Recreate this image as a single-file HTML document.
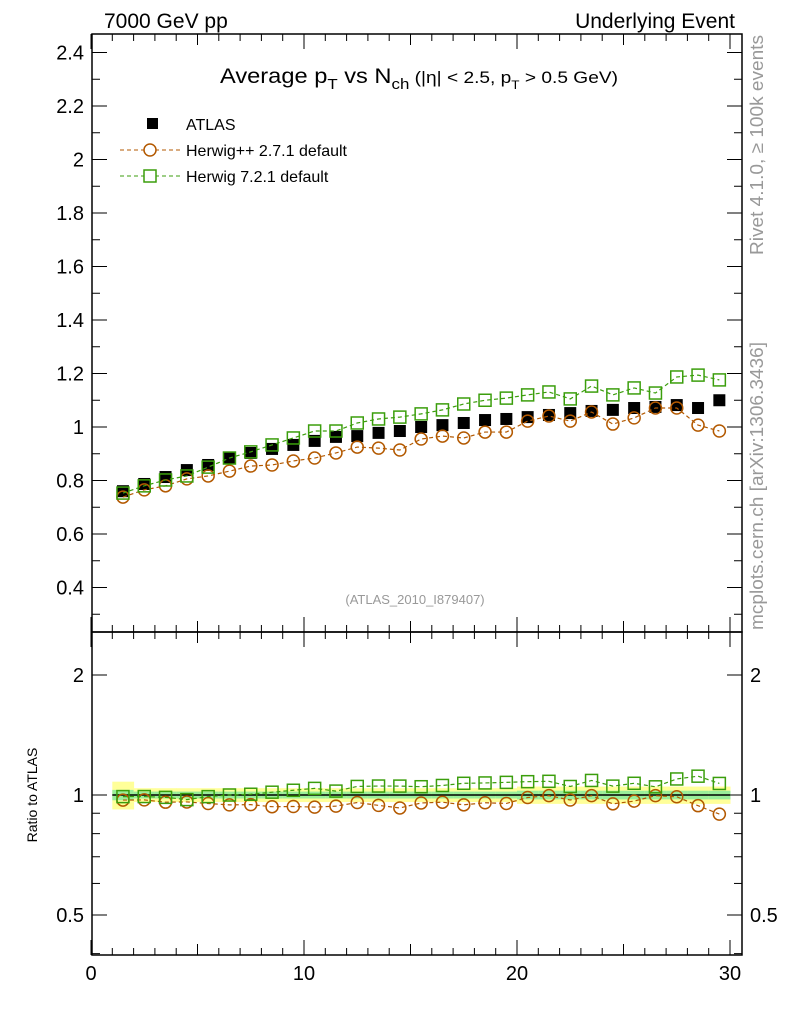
<!DOCTYPE html>
<html><head><meta charset="utf-8"><style>
body{margin:0;background:#fff}
svg{display:block;font-family:"Liberation Sans",sans-serif}
</style></head><body>
<svg id="c" width="786" height="1024" viewBox="0 0 786 1024">
<text x="104" y="28" font-size="21">7000 GeV pp</text>
<text x="735" y="28" font-size="21" text-anchor="end">Underlying Event</text>
<text x="220" y="83" font-size="21" textLength="398" lengthAdjust="spacingAndGlyphs">Average p<tspan font-size="15" dy="6">T</tspan><tspan dy="-6"> vs N</tspan><tspan font-size="15" dy="6">ch</tspan><tspan font-size="17" dy="-6"> (|η| &lt; 2.5, p</tspan><tspan font-size="12" dy="6">T</tspan><tspan font-size="17" dy="-6"> &gt; 0.5 GeV)</tspan></text>
<g id="legend">
<rect x="147" y="118" width="11" height="11" fill="#000"/>
<text x="186" y="130" font-size="16">ATLAS</text>
<line x1="120" y1="150" x2="180" y2="150" stroke="#b35900" stroke-dasharray="4,3"/>
<circle cx="150" cy="150" r="6" fill="#fff" stroke="#b35900" stroke-width="1.5"/>
<text x="186" y="156" font-size="16">Herwig++ 2.7.1 default</text>
<line x1="120" y1="176" x2="180" y2="176" stroke="#3b9e0c" stroke-dasharray="4,3"/>
<rect x="144" y="170" width="12" height="12" fill="#fff" stroke="#3b9e0c" stroke-width="1.5"/>
<text x="186" y="182" font-size="16">Herwig 7.2.1 default</text>
</g>
<text x="415" y="604" font-size="13" fill="#999" text-anchor="middle">(ATLAS_2010_I879407)</text>
<text transform="translate(763,255) rotate(-90)" font-size="18.5" fill="#999" textLength="220" lengthAdjust="spacingAndGlyphs">Rivet 4.1.0, ≥ 100k events</text>
<text transform="translate(763,630) rotate(-90)" font-size="18.5" fill="#999" textLength="288" lengthAdjust="spacingAndGlyphs">mcplots.cern.ch [arXiv:1306.3436]</text>
<text transform="translate(37,795) rotate(-90)" font-size="14" text-anchor="middle">Ratio to ATLAS</text>
<g id="marks"></g>
</svg>
<script>
const xs=[1.5,2.5,3.5,4.5,5.5,6.5,7.5,8.5,9.5,10.5,11.5,12.5,13.5,14.5,15.5,16.5,17.5,18.5,19.5,20.5,21.5,22.5,23.5,24.5,25.5,26.5,27.5,28.5,29.5];
const atlas=[0.76,0.787,0.813,0.839,0.858,0.884,0.903,0.918,0.933,0.948,0.963,0.966,0.978,0.985,1.0,1.007,1.015,1.026,1.03,1.037,1.045,1.052,1.06,1.064,1.071,1.075,1.082,1.071,1.10];
const herwigpp=[0.738,0.765,0.78,0.806,0.817,0.835,0.854,0.858,0.873,0.884,0.903,0.925,0.921,0.914,0.955,0.966,0.959,0.981,0.981,1.022,1.041,1.022,1.056,1.011,1.034,1.071,1.071,1.007,0.985];
const herwig7=[0.753,0.78,0.802,0.817,0.85,0.884,0.907,0.933,0.959,0.985,0.985,1.015,1.03,1.037,1.049,1.064,1.086,1.1,1.108,1.12,1.131,1.105,1.153,1.12,1.146,1.127,1.187,1.194,1.176];
const bandOuter=[0.08,0.04,0.04,0.04,0.04,0.04,0.04,0.04,0.04,0.04,0.04,0.04,0.04,0.04,0.04,0.04,0.04,0.04,0.04,0.05,0.05,0.05,0.05,0.05,0.05,0.05,0.05,0.05,0.05];
const bandInner=[0.03,0.02,0.02,0.02,0.02,0.02,0.02,0.02,0.02,0.02,0.02,0.02,0.02,0.02,0.02,0.02,0.02,0.02,0.02,0.025,0.025,0.025,0.025,0.025,0.025,0.025,0.025,0.025,0.025];
const yTicks=[0.4,0.6,0.8,1,1.2,1.4,1.6,1.8,2,2.2,2.4];
const xTicks=[0,10,20,30];
const rTicks=[0.5,1,2];
const L=92,R=742,T=34,M=632,B=955;
const X=v=>91+v*21.3;
const Y=v=>427-(v-1)*267.5;
const RY=v=>795-Math.log2(v)*120;
const svg=document.getElementById('c'),g=document.getElementById('marks');
const NS='http://www.w3.org/2000/svg';
function mk(t,a,p){const e=document.createElementNS(NS,t);for(const k in a)e.setAttribute(k,a[k]);(p||g).appendChild(e);return e;}
for(let i=0;i<xs.length;i++){
 const x0=X(xs[i]-0.5),x1=X(xs[i]+0.5);
 const b=mk('rect',{x:x0,y:RY(1+bandOuter[i]),width:x1-x0+0.5,height:RY(1-bandOuter[i])-RY(1+bandOuter[i]),fill:'#ffff99'});
 
 
 const c=mk('rect',{x:x0,y:RY(1+bandInner[i]),width:x1-x0+0.5,height:RY(1-bandInner[i])-RY(1+bandInner[i]),fill:'#99ee99'});
 
 
}
const rl=mk('line',{x1:X(1),x2:X(30),y1:RY(1),y2:RY(1),stroke:'#000','stroke-width':1.5});


const f1=mk('rect',{x:L,y:T,width:R-L,height:M-T,fill:'none',stroke:'#000','stroke-width':1.5});


const f2=mk('rect',{x:L,y:M,width:R-L,height:B-M,fill:'none',stroke:'#000','stroke-width':1.5});


for(let v=0.3;v<=2.45;v+=0.1){const y=Y(v);const maj=Math.abs(v*5-Math.round(v*5))<1e-6;const w=maj?15:8;
 mk('line',{x1:L,x2:L+w,y1:y,y2:y,stroke:'#000'});mk('line',{x1:R-w,x2:R,y1:y,y2:y,stroke:'#000'});}
yTicks.forEach(v=>{const t=mk('text',{x:L-8,y:Y(v)+7,'font-size':20,'text-anchor':'end'});t.textContent=String(v);
 
 });
for(let v=0;v<=30;v++){const maj=v%10==0,mid=v%5==0;const w=maj?15:(mid?11:7);const x=X(v);
 mk('line',{x1:x,x2:x,y1:T,y2:T+w,stroke:'#000'});mk('line',{x1:x,x2:x,y1:M,y2:M-w,stroke:'#000'});
 mk('line',{x1:x,x2:x,y1:M,y2:M+w,stroke:'#000'});mk('line',{x1:x,x2:x,y1:B,y2:B-w,stroke:'#000'});}
xTicks.forEach(v=>{const t=mk('text',{x:X(v),y:980,'font-size':20,'text-anchor':'middle'});t.textContent=String(v);
 
 });
[0.4,0.5,0.6,0.7,0.8,0.9,1,2].forEach(v=>{const y=RY(v);const maj=rTicks.includes(v);const w=maj?15:8;
 mk('line',{x1:L,x2:L+w,y1:y,y2:y,stroke:'#000'});mk('line',{x1:R-w,x2:R,y1:y,y2:y,stroke:'#000'});});
rTicks.forEach(v=>{const t=mk('text',{x:L-8,y:RY(v)+7,'font-size':20,'text-anchor':'end'});t.textContent=String(v);
 
 
 const t2=mk('text',{x:R+8,y:RY(v)+7,'font-size':20});t2.textContent=String(v);
 
 });
function series(vals,color,shape,yf,name){
 const pts=xs.map((x,i)=>X(x)+','+yf(vals[i])).join(' ');
 const pl=mk('polyline',{points:pts,fill:'none',stroke:color,'stroke-width':1.2,'stroke-dasharray':'4,3'});
 
 
 xs.forEach((x,i)=>{const cx=X(x),cy=yf(vals[i]);let e;
  if(shape=='c'){e=mk('circle',{cx:cx,cy:cy,r:6,fill:'none',stroke:color,'stroke-width':1.5});}
  else{e=mk('rect',{x:cx-6,y:cy-6,width:12,height:12,fill:'none',stroke:color,'stroke-width':1.5});}
  
  });
}
xs.forEach((x,i)=>{const e=mk('rect',{x:X(x)-6,y:Y(atlas[i])-6,width:12,height:12,fill:'#000'});
 
 });
series(herwigpp,'#b35900','c',Y,'herwigpp');
series(herwig7,'#3b9e0c','s',Y,'herwig7');
const rpp=herwigpp.map((v,i)=>v/atlas[i]);
const r7=herwig7.map((v,i)=>v/atlas[i]);
series(rpp,'#b35900','c',RY,'herwigpp-ratio');
series(r7,'#3b9e0c','s',RY,'herwig7-ratio');
</script>
</body></html>
